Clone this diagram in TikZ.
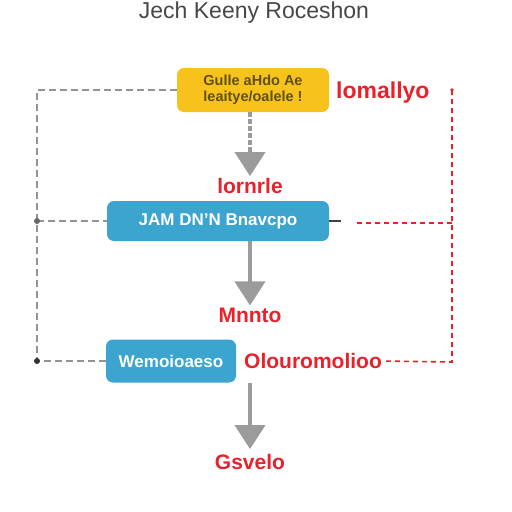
\documentclass[tikz,border=0pt]{standalone}
\usepackage{fontspec}
\setmainfont{Liberation Sans}
\usetikzlibrary{arrows.meta}
\definecolor{boxyellow}{HTML}{F7C21C}
\definecolor{boxblue}{HTML}{3BA5CF}
\definecolor{labred}{HTML}{E8212B}
\definecolor{olive}{HTML}{5F5218}
\definecolor{flowgray}{HTML}{9B9B9B}
\tikzset{
  stepbox/.style={rounded corners=7pt, inner sep=0pt, align=center, font=\bfseries\fontsize{17}{18}\selectfont, text=white},
  redlabel/.style={text=labred, font=\bfseries\fontsize{21}{22}\selectfont, inner sep=0pt},
  flowline/.style={flowgray, line width=4pt, shorten >=2pt, -{Triangle[width=30pt,length=24pt]}},
  leftdash/.style={gray!85, line width=2pt, dash pattern=on 7pt off 4pt},
  rightdash/.style={labred, line width=1.6pt, dash pattern=on 5pt off 4pt}
}

\begin{document}
\begin{tikzpicture}[x=1pt,y=-1pt]
\useasboundingbox (0,0) rectangle (512,512);
\node[text=black!72, font=\fontsize{23}{24}\selectfont] (title) at (254,13) {Jech Keeny Roceshon};
\node[stepbox, fill=boxyellow, minimum width=152pt, minimum height=44pt, text=olive, font=\bfseries\fontsize{14.5}{16}\selectfont] (yellow) at (253,90) {Gulle aHdo Ae\\ leaitye/oalele !};
\node[redlabel, anchor=west, font=\bfseries\fontsize{23}{24}\selectfont] (lomal) at (336,93) {lomallyo};
\node[redlabel] (lbl1) at (250,186) {lornrle};
\node[stepbox, fill=boxblue, minimum width=222pt, minimum height=40pt] (blue1) at (218,221) {JAM DN'N Bnavcpo};
\node[redlabel] (lbl2) at (250,315) {Mnnto};
\node[stepbox, fill=boxblue, minimum width=130pt, minimum height=43pt] (blue2) at (171,361) {Wemoioaeso};
\node[redlabel, anchor=west] (olab) at (244,361) {Olouromolioo};
\node[redlabel] (lbl3) at (250,462) {Gsvelo};
% flow arrows
\draw[flowline, dash pattern=on 5pt off 2pt] (lbl1.north |- yellow.south) -- (lbl1.north);
\draw[flowline] (lbl2.north |- blue1.south) -- (lbl2.north);
\draw[flowline, shorten >=5pt] (lbl3.north |- blue2.south) -- (lbl3.north);
% left loop
\coordinate (ltop) at (37,90);
\coordinate (lmid) at (37,221);
\coordinate (lbot) at (37,361);
\draw[leftdash] (yellow.west) -- (ltop) -- (lbot) -- (blue2.west);
\draw[leftdash] (lmid) -- (blue1.west);
\fill[black!60] (lmid) circle (3pt);
\fill[black!80] (lbot) circle (3pt);
% right loop
\coordinate (rtop) at (452,90);
\coordinate (rmid) at (452,223);
\coordinate (rbot) at (452,362);
\coordinate (rstub) at (341,221);
\coordinate (rstart) at (355,223);
\draw[black!75, line width=2pt] (blue1.east) -- (rstub);
\draw[rightdash] (rtop) -- (rbot) -- (olab.east);
\draw[rightdash] (rmid) -- (rstart);
\fill[labred] (rtop) circle (1.8pt);
\end{tikzpicture}
\end{document}
